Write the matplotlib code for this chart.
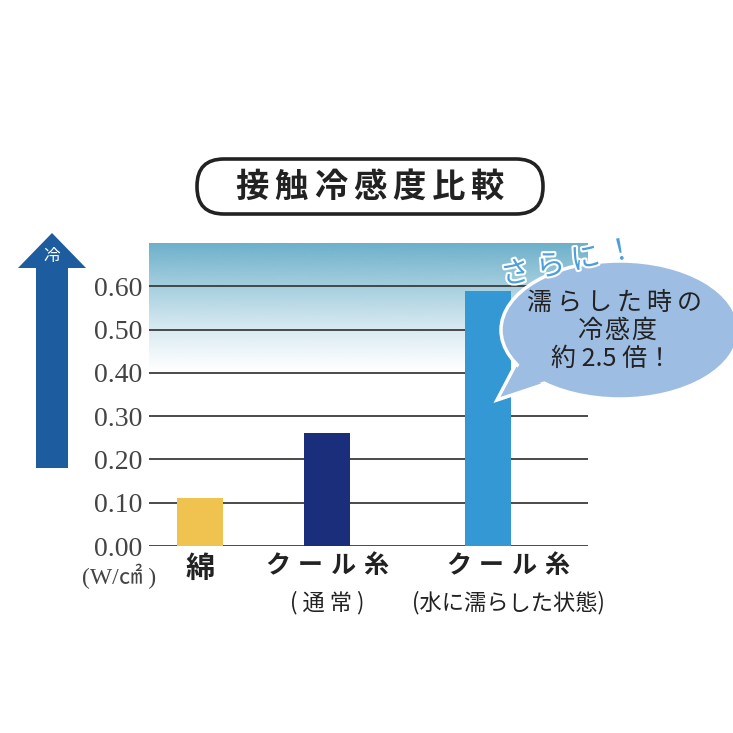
import numpy as np
import matplotlib
matplotlib.use("Agg")
import matplotlib.pyplot as plt
from matplotlib.patches import Ellipse, Polygon, FancyBboxPatch
import matplotlib.patheffects as pe

plt.rcParams['font.family'] = ['Noto Sans CJK JP', 'DejaVu Sans']

# data
categories = ["綿", "クール糸", "クール糸"]
subtitles = ["", "( 通 常 )", "(水に濡らした状態)"]
values = [0.11, 0.26, 0.59]
bar_colors = ["#f0c24f", "#1b2e7b", "#3398d4"]
yticks = [0.0, 0.1, 0.2, 0.3, 0.4, 0.5, 0.6]
title = "接触冷感度比較"
unit = "(W/㎠ )"
bubble_lines = ["濡らした時の", "冷感度", "約 2.5 倍！"]
bubble_head = "さらに！"

W = 733
fig = plt.figure(figsize=(7.33, 7.33), dpi=100)

# main axes (pixel layout: x 149-588, y 546 -> 0.00, 243 -> 0.70)
ax = fig.add_axes([149 / W, 1 - 546 / W, (588 - 149) / W, (546 - 243) / W], zorder=1)
ax.set_xlim(0, 439)
ax.set_ylim(0, 0.70)
ax.patch.set_alpha(0)
for s in ax.spines.values():
    s.set_visible(False)

# gradient at top
n = 200
t = np.linspace(0, 1, n) ** 1.2
grad = np.zeros((n, 1, 4))
grad[:, 0, 0] = 108 / 255
grad[:, 0, 1] = 176 / 255
grad[:, 0, 2] = 202 / 255
grad[:, 0, 3] = t
ax.imshow(grad, extent=[0, 439, 0.40, 0.70], origin='lower', aspect='auto', zorder=0)

for v in yticks:
    ax.axhline(v, color="#3c3c3c", lw=1.3, zorder=1)

xpos = [51, 178, 339]
ax.bar(xpos, values, width=46, color=bar_colors, zorder=3)

ax.set_xticks([])
ax.set_yticks(yticks)
ax.set_yticklabels(["%.2f" % v for v in yticks], family=['Liberation Serif'],
                   fontsize=20, color="#444444")
ax.tick_params(axis='y', length=0, pad=5)

# overlay in pixel coordinates
ov = fig.add_axes([0, 0, 1, 1], zorder=2)
ov.set_xlim(0, W); ov.set_ylim(W, 0); ov.axis('off'); ov.patch.set_alpha(0)


def spaced(x_c, y, s, step, **kw):
    xs = x_c + (np.arange(len(s)) - (len(s) - 1) / 2) * step
    for x, ch in zip(xs, s):
        ov.text(x, y, ch, ha='center', va='center', **kw)


# title box
ov.add_patch(FancyBboxPatch((197, 159), 346, 55, boxstyle="round,pad=0,rounding_size=27",
                            fc="white", ec="#222222", lw=2.6))
spaced(370, 187, title, 39.3, fontsize=24, fontweight='bold', color="#222222")

# category labels
label_x = [200, 327, 508]
spaced(label_x[0], 568, categories[0], 33, fontsize=21, fontweight='bold', color="#222222")
spaced(label_x[1], 566, categories[1], 33, fontsize=18, fontweight='bold', color="#222222")
spaced(label_x[2], 566, categories[2], 33, fontsize=18, fontweight='bold', color="#222222")
ov.text(label_x[1], 603, subtitles[1], ha='center', va='center', fontsize=16, color="#222222")
ov.text(label_x[2], 603, subtitles[2], ha='center', va='center', fontsize=16, color="#222222")
ov.text(119, 576, unit, ha='center', va='center', fontsize=17, color="#444444",
        family=['Liberation Serif', 'Noto Sans CJK JP'])

# arrow on the left
arrow = Polygon([(36, 468), (36, 268), (18, 268), (52, 233), (86, 268), (68, 268), (68, 468)],
                closed=True, fc="#1d5c9f", ec="none")
ov.add_patch(arrow)
ov.text(52, 257, "冷", ha='center', va='center', fontsize=12, color="white")

# speech bubble
ov.add_patch(Polygon([(518, 360), (497, 400), (548, 383)], closed=True,
                     fc="#9dbde3", ec="white", lw=2.5, zorder=3))
ov.add_patch(Ellipse((620, 330), 238, 138, fc="#9dbde3", ec="white", lw=2.5, zorder=4))
ov.add_patch(Polygon([(521, 362), (501, 396), (545, 381)], closed=True,
                     fc="#9dbde3", ec="none", zorder=5))
spaced(614, 303, bubble_lines[0], 30, fontsize=18, color="#222222", zorder=6)
spaced(617, 331, bubble_lines[1], 27, fontsize=18, color="#222222", zorder=6)
ov.text(612, 359, bubble_lines[2], ha='center', va='center', fontsize=18,
        color="#222222", zorder=6)

ov.text(568, 263, " ".join(bubble_head), ha='center', va='center', fontsize=21,
        color="#4d9fda", rotation=12, zorder=7,
        path_effects=[pe.withStroke(linewidth=3, foreground="white")])

fig.savefig("out.png", dpi=100, facecolor="white")
